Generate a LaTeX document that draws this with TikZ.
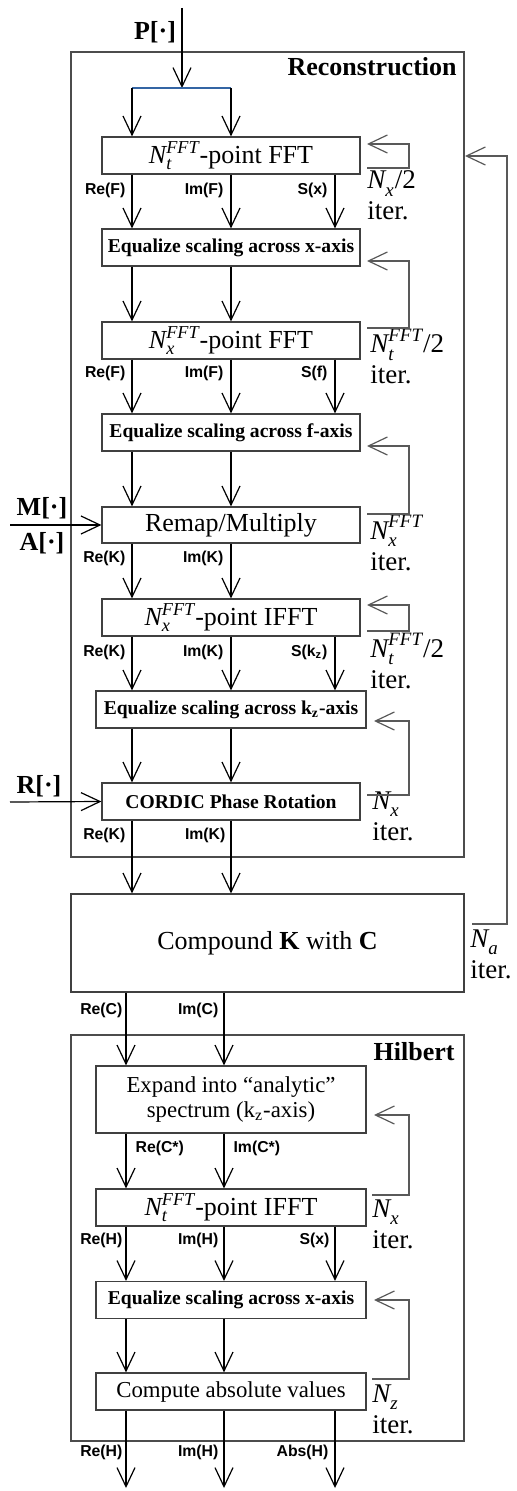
\documentclass[tikz,border=0pt]{standalone}
\usepackage{amsmath}
\usepackage{fontspec}
\setmainfont{Liberation Serif}
\setsansfont{Liberation Sans}
\usetikzlibrary{arrows.meta}

\newcommand{\Nit}[2]{$\text{\itshape N}_{\text{\itshape #1}}^{\text{\itshape #2}}$}

\begin{document}
\begin{tikzpicture}[x=0.5pt, y=-0.5pt,
  blk/.style={draw=black!75, line width=0.6pt, fill=white, inner sep=0pt,
    minimum width=129pt, minimum height=18.5pt, font=\fontsize{13}{15}\selectfont},
  blkw/.style={blk, minimum width=135pt},
  eqz/.style={font=\fontsize{9.8}{11}\selectfont\bfseries},
  grp/.style={draw=black!70, line width=0.6pt, inner sep=0pt},
  arr/.style={line width=0.6pt, -{Straight Barb[length=9.5pt, width=9pt, line width=0.6pt]}},
  fbk/.style={arr, draw=black!65},
  sig/.style={font=\fontsize{7.9}{9}\selectfont\sffamily\bfseries, inner sep=0pt},
  inp/.style={font=\fontsize{13}{15}\selectfont\bfseries, inner sep=0pt},
  itr/.style={font=\fontsize{13.5}{15.5}\selectfont, align=left, inner sep=0pt, anchor=base west},
]
\useasboundingbox (0,0) rectangle (517,1491);

%%%  nodes

% group frames
\node [grp, minimum width=196.5pt, minimum height=402.5pt] (recon) at (267.5,454.5) {};
\node [grp, minimum width=196.5pt, minimum height=203pt] (hilb) at (267.5,1238) {};
\node [inp, anchor=base east] (reclab) at (457,76) {Reconstruction};
\node [inp, anchor=base east] (hillab) at (455,1060) {Hilbert};

% reconstruction blocks
\node [blk] (fft1) at (231,155.5) {\Nit{t}{FFT}-point FFT};
\node [blk, eqz] (eq1) at (231,247.5) {Equalize scaling across x-axis};
\node [blk] (fft2) at (231,340.5) {\Nit{x}{FFT}-point FFT};
\node [blk, eqz] (eq2) at (231,432.5) {Equalize scaling across f-axis};
\node [blk, minimum height=18pt] (remap) at (231,525) {Remap/Multiply};
\node [blk] (ifft1) at (231,617.5) {\Nit{x}{FFT}-point IFFT};
\node [blkw, eqz] (eq3) at (231,709.5) {Equalize scaling across k\textsubscript{z}-axis};
\node [blk, eqz] (cordic) at (231,801.5) {CORDIC Phase Rotation};

% compound block
\node [blk, minimum width=196.5pt, minimum height=49pt] (comp) at (267.5,943) {Compound \textbf{K} with \textbf{C}};

% hilbert blocks
\node [blkw, minimum height=33.5pt, align=center, font=\fontsize{11.4}{12.5}\selectfont] (expand) at (231,1099.5) {Expand into “analytic”\\spectrum (k\textsubscript{z}-axis)};
\node [blkw] (ifft2) at (231,1207.5) {\Nit{t}{FFT}-point IFFT};
\node [blkw, eqz] (eq4) at (231,1300) {Equalize scaling across x-axis};
\node [blkw, font=\fontsize{11.4}{13}\selectfont] (absval) at (231,1391.5) {Compute absolute values};

% input nodes
\coordinate (pin) at (182,8);
\coordinate (split) at (182,88);
\coordinate (min) at (10,525);
\coordinate (rin) at (10,802);
\node [inp, anchor=base] (plab) at (155,40) {P[·]};
\node [inp, anchor=base] (mlab) at (42,516) {M[·]};
\node [inp, anchor=base] (alab) at (42,550) {A[·]};
\node [inp, anchor=base] (rlab) at (39,793) {R[·]};

% column nodes
\coordinate (ca) at (132,0);
\coordinate (cb) at (231,0);
\coordinate (cc) at (335,0);
\coordinate (ha) at (126,0);
\coordinate (hb) at (224,0);
\coordinate (outy) at (0,1488);

% loop nodes
\coordinate (lx) at (409,0);
\coordinate (ax) at (507,0);
\coordinate (f1s) at (367,168);  \coordinate (f1e) at (367,144);
\coordinate (f2s) at (367,328);  \coordinate (f2e) at (367,261);
\coordinate (f3s) at (367,514);  \coordinate (f3e) at (367,446);
\coordinate (f4s) at (367,631);  \coordinate (f4e) at (367,605);
\coordinate (f5s) at (367,795);  \coordinate (f5e) at (374,721);
\coordinate (f6s) at (472,924);  \coordinate (f6e) at (465,156);
\coordinate (f7s) at (372,1195); \coordinate (f7e) at (374,1115);
\coordinate (f8s) at (372,1379); \coordinate (f8e) at (374,1300);

% iteration labels
\node [itr] (it1) at (367,220) {\Nit{x}{}/2\\iter.};
\node [itr] (it2) at (370,384) {\Nit{t}{FFT}/2\\iter.};
\node [itr] (it3) at (370,570) {\Nit{x}{FFT}\\iter.};
\node [itr] (it4) at (370,688) {\Nit{t}{FFT}/2\\iter.};
\node [itr] (it5) at (372,840) {\Nit{x}{}\\iter.};
\node [itr] (it6) at (470,978) {\Nit{a}{}\\iter.};
\node [itr] (it7) at (372,1248) {\Nit{x}{}\\iter.};
\node [itr] (it8) at (372,1433) {\Nit{z}{}\\iter.};

%%% edges

% input split
\draw [arr] (pin) to (split);
\draw [line width=0.6pt, draw={rgb,255:red,52;green,101;blue,164}] (split -| ca) to (split -| cb);
\draw [arr] (split -| ca) to (fft1.north -| ca);
\draw [arr] (split -| cb) to (fft1.north -| cb);

% side inputs
\draw [arr] (min) to (remap.west);
\draw [arr] (rin) to (cordic.west);

% fft1 -> eq1
\draw [arr] (fft1.south -| ca) to node [sig, left=3pt, pos=0.29] (s1a) {Re(F)} (eq1.north -| ca);
\draw [arr] (fft1.south -| cb) to node [sig, left=3.5pt, pos=0.29] (s1b) {Im(F)} (eq1.north -| cb);
\draw [arr] (fft1.south -| cc) to node [sig, left=3.5pt, pos=0.29] (s1c) {S(x)} (eq1.north -| cc);

% eq1 -> fft2
\draw [arr] (eq1.south -| ca) to (fft2.north -| ca);
\draw [arr] (eq1.south -| cb) to (fft2.north -| cb);

% fft2 -> eq2
\draw [arr] (fft2.south -| ca) to node [sig, left=3pt, pos=0.25] (s2a) {Re(F)} (eq2.north -| ca);
\draw [arr] (fft2.south -| cb) to node [sig, left=3.5pt, pos=0.25] (s2b) {Im(F)} (eq2.north -| cb);
\draw [arr] (fft2.south -| cc) to node [sig, left=3.5pt, pos=0.25] (s2c) {S(f)} (eq2.north -| cc);

% eq2 -> remap
\draw [arr] (eq2.south -| ca) to (remap.north -| ca);
\draw [arr] (eq2.south -| cb) to (remap.north -| cb);

% remap -> ifft1
\draw [arr] (remap.south -| ca) to node [sig, left=3pt, pos=0.27] (s3a) {Re(K)} (ifft1.north -| ca);
\draw [arr] (remap.south -| cb) to node [sig, left=3.5pt, pos=0.27] (s3b) {Im(K)} (ifft1.north -| cb);

% ifft1 -> eq3
\draw [arr] (ifft1.south -| ca) to node [sig, left=3pt, pos=0.29] (s4a) {Re(K)} (eq3.north -| ca);
\draw [arr] (ifft1.south -| cb) to node [sig, left=3.5pt, pos=0.29] (s4b) {Im(K)} (eq3.north -| cb);
\draw [arr] (ifft1.south -| cc) to node [sig, left=3.5pt, pos=0.29] (s4c) {S(k\textsubscript{z})} (eq3.north -| cc);

% eq3 -> cordic
\draw [arr] (eq3.south -| ca) to (cordic.north -| ca);
\draw [arr] (eq3.south -| cb) to (cordic.north -| cb);

% cordic -> compound
\draw [arr] (cordic.south -| ca) to node [sig, left=3pt, pos=0.2] (s5a) {Re(K)} (comp.north -| ca);
\draw [arr] (cordic.south -| cb) to node [sig, left=2.5pt, pos=0.2] (s5b) {Im(K)} (comp.north -| cb);

% compound -> expand
\draw [arr] (comp.south -| ha) to node [sig, left=1.5pt, pos=0.24] (s6a) {Re(C)} (expand.north -| ha);
\draw [arr] (comp.south -| hb) to node [sig, left=2.5pt, pos=0.24] (s6b) {Im(C)} (expand.north -| hb);

% expand -> ifft2
\draw [arr] (expand.south -| ha) to node [sig, right=4.5pt, pos=0.27] (s7a) {Re(C*)} (ifft2.north -| ha);
\draw [arr] (expand.south -| hb) to node [sig, right=4.5pt, pos=0.27] (s7b) {Im(C*)} (ifft2.north -| hb);

% ifft2 -> eq4
\draw [arr] (ifft2.south -| ha) to node [sig, left=1.5pt, pos=0.25] (s8a) {Re(H)} (eq4.north -| ha);
\draw [arr] (ifft2.south -| hb) to node [sig, left=2.5pt, pos=0.25] (s8b) {Im(H)} (eq4.north -| hb);
\draw [arr] (ifft2.south -| cc) to node [sig, left=2.5pt, pos=0.25] (s8c) {S(x)} (eq4.north -| cc);

% eq4 -> absval
\draw [arr] (eq4.south -| ha) to (absval.north -| ha);
\draw [arr] (eq4.south -| hb) to (absval.north -| hb);

% outputs
\draw [arr] (absval.south -| ha) to node [sig, left=1.5pt, pos=0.54] (o1) {Re(H)} (outy -| ha);
\draw [arr] (absval.south -| hb) to node [sig, left=2.5pt, pos=0.54] (o2) {Im(H)} (outy -| hb);
\draw [arr] (absval.south -| cc) to node [sig, left=3pt, pos=0.54] (o3) {Abs(H)} (outy -| cc);

% iteration loops
\draw [fbk] (f1s) to (f1s -| lx) |- (f1e);
\draw [fbk] (f2s) to (f2s -| lx) |- (f2e);
\draw [fbk] (f3s) to (f3s -| lx) |- (f3e);
\draw [fbk] (f4s) to (f4s -| lx) |- (f4e);
\draw [fbk] (f5s) to (f5s -| lx) |- (f5e);
\draw [fbk] (f6s) to (f6s -| ax) |- (f6e);
\draw [fbk] (f7s) to (f7s -| lx) |- (f7e);
\draw [fbk] (f8s) to (f8s -| lx) |- (f8e);
\end{tikzpicture}
\end{document}
